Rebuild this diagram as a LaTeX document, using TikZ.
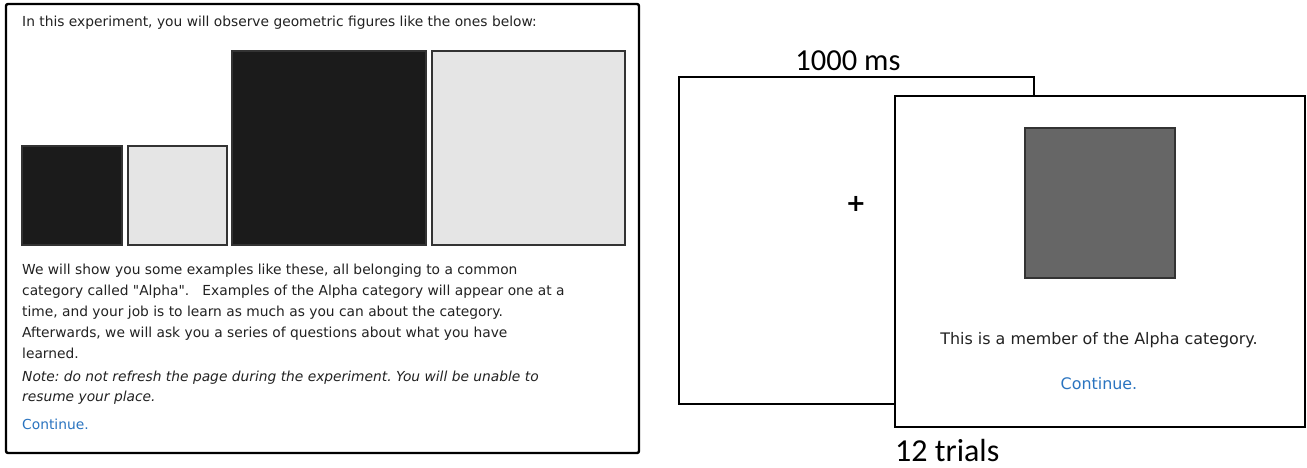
\documentclass[tikz,border=0pt]{standalone}
\usepackage{fontspec}
\setmainfont{DejaVu Sans}
\newfontfamily\uifont{DejaVu Sans}
\newfontfamily\labelfont{Carlito}
\usepackage{tikz}
\usetikzlibrary{positioning}
\frenchspacing
\definecolor{figblack}{RGB}{27, 27, 27}
\definecolor{figgray}{RGB}{229, 229, 229}
\definecolor{stimgray}{RGB}{102, 102, 102}
\definecolor{linkblue}{RGB}{42, 116, 192}
\definecolor{uitext}{RGB}{34, 34, 34}
\tikzset{
  screen/.style = {draw = black, line width = 2.4pt, fill = white, inner sep = 0pt},
  figure/.style = {draw = black!80, line width = 1.6pt, inner sep = 0pt},
  uitxt/.style = {inner sep = 0pt, text = uitext, font = \uifont\fontsize{13.8}{21}\selectfont},
  bigtxt/.style = {inner sep = 0pt, font = \labelfont\fontsize{30.5}{31}\selectfont}
}

\begin{document}
\begin{tikzpicture}[x = 1pt, y = -1pt]
\useasboundingbox (0,0) rectangle (1307,467);
% instructions screen
\node [screen, rounded corners = 2pt, minimum width = 633pt, minimum height = 449pt] (intro) at (322.5, 228.5) {};
\node [uitxt, anchor = west] (introtop) at (22, 23) {In this experiment, you will observe geometric figures like the ones below:};
\node [figure, fill = figblack, minimum width = 100pt, minimum height = 99pt] (smallblack) at (72, 195.5) {};
\node [figure, fill = figgray, minimum width = 99pt, minimum height = 99pt] (smallgray) at (177.5, 195.5) {};
\node [figure, fill = figblack, minimum width = 194pt, minimum height = 194pt] (bigblack) at (329, 148) {};
\node [figure, fill = figgray, minimum width = 193pt, minimum height = 194pt] (biggray) at (528.5, 148) {};
\node [uitxt, anchor = north west, align = left] (introbody) at (22, 264) {We will show you some examples like these, all belonging to a common\\
category called "Alpha".\ \ \ Examples of the Alpha category will appear one at a\\
time, and your job is to learn as much as you can about the category.\\
Afterwards, we will ask you a series of questions about what you have\\
learned.};
\node [uitxt, anchor = north west, align = left, font = \uifont\fontsize{13.8}{20}\selectfont\itshape] (intronote) at (22, 371) {Note: do not refresh the page during the experiment. You will be unable to\\
resume your place.};
\node [uitxt, anchor = west, text = linkblue] (introlink) at (22, 424) {Continue.};
% trial screens
\node [screen, minimum width = 355pt, minimum height = 327pt] (fixation) at (856.5, 240.5) {};
\node [bigtxt, anchor = south] (fixtime) at (848, 71) {1000 ms};
\node [inner sep = 0pt, font = \uifont\bfseries\fontsize{24}{24}\selectfont] (cross) at (856, 204) {+};
\node [screen, minimum width = 410pt, minimum height = 331pt] (trial) at (1100, 261.5) {};
\node [figure, fill = stimgray, minimum width = 150pt, minimum height = 150pt] (stimulus) at (1100, 203) {};
\node [uitxt, font = \uifont\fontsize{15.9}{21}\selectfont] (trialtext) at (1099, 340) {This is a member of the Alpha category.};
\node [uitxt, text = linkblue, font = \uifont\fontsize{15.9}{21}\selectfont] (triallink) at (1099, 384) {Continue.};
\node [bigtxt, anchor = north west, font = \labelfont\fontsize{32}{32}\selectfont] (trialcount) at (895, 439) {12 trials};
\end{tikzpicture}
\end{document}
